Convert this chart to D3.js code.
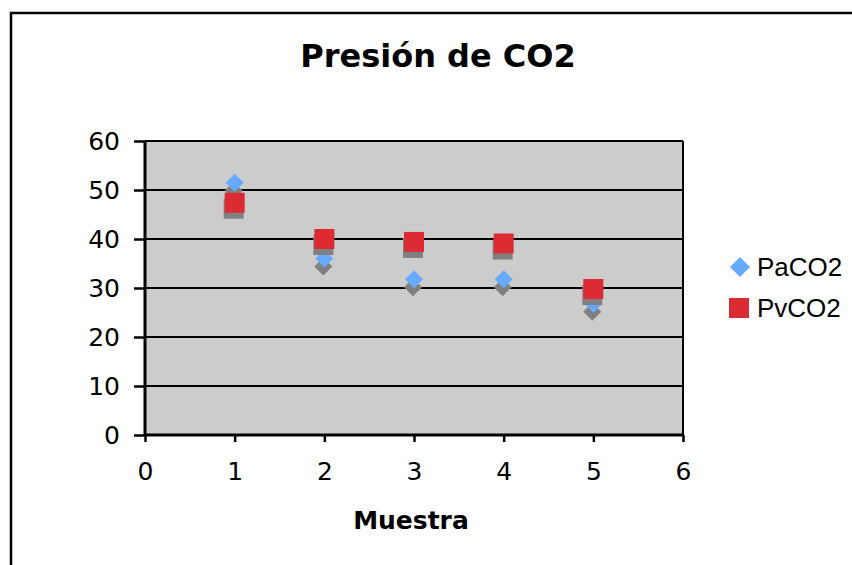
<!DOCTYPE html>
<html>
<head>
<meta charset="utf-8">
<script src="https://cdn.jsdelivr.net/npm/d3@7/dist/d3.min.js"></script>
<style>
  html, body { margin: 0; padding: 0; background: #fff; }
  svg { display: block; }
</style>
</head>
<body>
<svg id="chart" width="852" height="565"></svg>
<script>
// Sample numbers (x) and measured CO2 pressures
const muestras = [1, 2, 3, 4, 5];
const paCO2 = [51.5, 36.0, 31.8, 31.8, 26.8];
const pvCO2 = [47.4, 40.0, 39.4, 39.1, 29.8];
const xTicks = [0, 1, 2, 3, 4, 5, 6];
const yTicks = [0, 10, 20, 30, 40, 50, 60];
const seriesNames = ["PaCO2", "PvCO2"];

const svg = d3.select("#chart");
const W = 852, H = 565;
const plot = { left: 145, right: 683, top: 141, bottom: 435 };

// Outer chart frame (runs off the right and bottom edges)
svg.append("rect")
  .attr("x", 11).attr("y", 13)
  .attr("width", W + 20).attr("height", H + 20)
  .attr("fill", "#fff").attr("stroke", "#000").attr("stroke-width", 2.5);

const x = d3.scaleLinear().domain([0, 6]).range([plot.left, plot.right]);
const y = d3.scaleLinear().domain([0, 60]).range([plot.bottom, plot.top]);

// Plot background
svg.append("rect")
  .attr("x", plot.left).attr("y", plot.top)
  .attr("width", plot.right - plot.left).attr("height", plot.bottom - plot.top)
  .attr("fill", "#cccccc");

// Horizontal gridlines
svg.append("g").selectAll("line").data(yTicks.filter(d => d > 0)).join("line")
  .attr("x1", plot.left).attr("x2", plot.right)
  .attr("y1", d => y(d)).attr("y2", d => y(d))
  .attr("stroke", "#000").attr("stroke-width", 2);

// Right border of plot area
svg.append("line")
  .attr("x1", plot.right).attr("x2", plot.right)
  .attr("y1", plot.top).attr("y2", plot.bottom)
  .attr("stroke", "#000").attr("stroke-width", 2);

// Axes
const yAxis = d3.axisLeft(y).tickValues(yTicks).tickSize(11).tickPadding(14).tickFormat(d3.format("d"));
const xAxis = d3.axisBottom(x).tickValues(xTicks).tickSize(7).tickPadding(20).tickFormat(d3.format("d"));

const gy = svg.append("g").attr("transform", `translate(${plot.left},0)`).call(yAxis);
const gx = svg.append("g").attr("transform", `translate(0,${plot.bottom})`).call(xAxis);
[gx, gy].forEach(g => {
  g.select(".domain").attr("stroke", "#000").attr("stroke-width", 3);
  g.selectAll(".tick line").attr("stroke", "#000").attr("stroke-width", 2.5);
  g.selectAll(".tick text")
    .attr("fill", "#000")
    .style("font-family", "'DejaVu Sans', Verdana, sans-serif")
    .style("font-size", "25px");
});
gx.select(".domain").attr("d", `M${plot.left},0H${plot.right}`);
gy.select(".domain").attr("d", `M0,${plot.top}V${plot.bottom}`);

// Marker shapes
const diamond = (cx, cy, r) => `M${cx},${cy - r}L${cx + r},${cy}L${cx},${cy + r}L${cx - r},${cy}Z`;
const square = (cx, cy, s) => `M${cx - s / 2},${cy - s / 2}h${s}v${s}h${-s}Z`;

const shadowDx = -1, shadowDy = 8;
const paPts = muestras.map((m, i) => ({ x: x(m), y: y(paCO2[i]) }));
const pvPts = muestras.map((m, i) => ({ x: x(m), y: y(pvCO2[i]) }));

const marks = svg.append("g");
// PaCO2 shadows + markers
marks.selectAll("path.pa-sh").data(paPts).join("path")
  .attr("class", "pa-sh")
  .attr("d", d => diamond(d.x + shadowDx, d.y + shadowDy, 9))
  .attr("fill", "#808080");
marks.selectAll("path.pa").data(paPts).join("path")
  .attr("class", "pa")
  .attr("d", d => diamond(d.x, d.y, 9))
  .attr("fill", "#66aaff");
// PvCO2 shadows + markers
marks.selectAll("path.pv-sh").data(pvPts).join("path")
  .attr("class", "pv-sh")
  .attr("d", d => square(d.x + shadowDx, d.y + shadowDy - 2, 20))
  .attr("fill", "#808080");
marks.selectAll("path.pv").data(pvPts).join("path")
  .attr("class", "pv")
  .attr("d", d => square(d.x, d.y, 20))
  .attr("fill", "#dd2b33");

// Title
svg.append("text")
  .attr("x", 438).attr("y", 67)
  .attr("text-anchor", "middle")
  .style("font-family", "'DejaVu Sans', Verdana, sans-serif")
  .style("font-weight", "bold")
  .style("font-size", "32px")
  .text("Presión de CO2");

// X-axis title
svg.append("text")
  .attr("x", 411).attr("y", 529)
  .attr("text-anchor", "middle")
  .style("font-family", "'DejaVu Sans', Verdana, sans-serif")
  .style("font-weight", "bold")
  .style("font-size", "25px")
  .text("Muestra");

// Legend
const legend = svg.append("g");
const legRows = [
  { name: seriesNames[0], cy: 267, shape: "d", color: "#66aaff" },
  { name: seriesNames[1], cy: 308, shape: "s", color: "#dd2b33" }
];
legRows.forEach(r => {
  legend.append("path")
    .attr("d", r.shape === "d" ? diamond(740, r.cy, 10) : square(739, r.cy, 20))
    .attr("fill", r.color);
  legend.append("text")
    .attr("x", 757).attr("y", r.cy + 9)
    .style("font-family", "'Liberation Sans', Arial, sans-serif")
    .style("font-size", "26px")
    .text(r.name);
});
</script>
</body>
</html>
